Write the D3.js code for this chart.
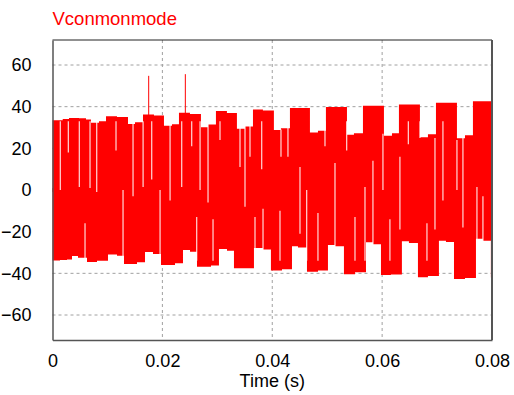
<!DOCTYPE html>
<html>
<head>
<meta charset="utf-8">
<script src="https://cdn.jsdelivr.net/npm/d3@7"></script>
<style>
    body { margin: 0; background: #fff; }
    #chart { width: 514px; height: 395px; }
    .axis text { font-family: "Liberation Sans", Arial, sans-serif; font-size: 18px; fill: #000; }
</style>
</head>
<body>
<div id="chart"></div>
<script>

// upper envelope of the switching waveform (step levels, V)
const topTimes = [0, 0.00186, 0.0030, 0.00482, 0.00610, 0.0070, 0.00846, 0.00974, 0.01174, 0.01374,
    0.01502, 0.01647, 0.01847, 0.02029, 0.02175, 0.02302, 0.02502, 0.02702, 0.02830, 0.02975,
    0.03175, 0.03357, 0.03503, 0.03649, 0.03830, 0.04030, 0.04158, 0.04322, 0.04686, 0.04832,
    0.04977, 0.05360, 0.05487, 0.05651, 0.06033, 0.06179, 0.06306, 0.06688, 0.06834, 0.06980,
    0.07362, 0.07508, 0.07653];
const topLevels = [33.5, 34.1, 34.6, 34.4, 33.8, 32.3, 33.0, 35.4, 35.0, 31.7,
    32.5, 36.3, 35.8, 30.9, 31.6, 37.1, 36.5, 30.1, 31.5, 37.9,
    37.0, 29.4, 30.5, 38.7, 38.2, 28.8, 29.6, 39.4, 27.6, 28.5,
    39.9, 26.5, 27.3, 40.5, 26.0, 27.2, 41.1, 25.3, 26.8, 41.9,
    24.8, 26.3, 42.6];

// lower envelope
const bottomTimes = [0, 0.00137, 0.00264, 0.00355, 0.00464, 0.00628, 0.0081, 0.0101, 0.01174, 0.01301,
    0.01538, 0.01684, 0.01829, 0.01975, 0.0223, 0.02375, 0.02503, 0.0263, 0.02885, 0.0303,
    0.03176, 0.03303, 0.03667, 0.03831, 0.03976, 0.04177, 0.04359, 0.04468, 0.04632, 0.04832,
    0.05014, 0.05142, 0.05305, 0.05506, 0.05706, 0.05833, 0.05979, 0.0616, 0.0636, 0.06488,
    0.06652, 0.06834, 0.07034, 0.07162, 0.07308, 0.07508, 0.07708, 0.07835, 0.0798];
const bottomLevels = [-33.8, -33.6, -33.4, -31.7, -32.5, -34.6, -34.0, -31.0, -31.5, -35.5,
    -34.7, -29.8, -30.7, -36.0, -35.2, -28.8, -29.6, -36.8, -36.2, -28.3,
    -29.2, -37.5, -27.8, -28.5, -38.6, -38.0, -27.0, -27.6, -39.2, -38.6,
    -26.4, -27.0, -40.4, -39.5, -25.1, -26.0, -40.8, -40.5, -24.6, -25.4,
    -41.9, -41.3, -24.3, -25.0, -42.7, -42.2, -23.4, -24.3, -42.0];

// white streaks inside the band (time, upper value, lower value)
const gapTimes = [0.00142, 0.00288, 0.00488, 0.00592, 0.00683, 0.00805, 0.01156, 0.01284, 0.01466, 0.01649,
    0.01806, 0.01958, 0.02140, 0.02352, 0.02534, 0.02625, 0.02686, 0.02831, 0.02922, 0.03049,
    0.03413, 0.03504, 0.03595, 0.03686, 0.03808, 0.03832, 0.04159, 0.04141, 0.04286, 0.04505,
    0.04627, 0.04832, 0.04960, 0.05142, 0.05355, 0.05506, 0.05688, 0.05833, 0.06015, 0.06142,
    0.06324, 0.06477, 0.06689, 0.06816, 0.06962, 0.07107, 0.07362, 0.07471, 0.07726, 0.07835];
const gapHigh = [33, 33, 33, -16, 33, 33, 33, 0, 33, 33,
    33, 0, 33, 33, 33, -13, 33, 33, -14, 33,
    33, 33, 33, -13, 33, -9, 29, -10, 33, 11,
    0, -11, 33, 13, 33, -13, 1.5, 14, 27, -14,
    16, 33, 33, -16, 25, 33, 24, 33, 1.5, -3];
const gapLow = [0, 18, 1.5, -34, 1, -1, 19, -34, -3, 1.5,
    5, -34, -5, 1.5, 21, -34, 0, -6, -34, 24,
    11, -8, 16, -34, 10, -34, 16, -34, 16, -21,
    -34, -34, 21, -34, 19, -34, -34, -34, 0, -34,
    -19, 22, 25, -34, -19, -5, 0, -18, -34, -34];

// two narrow spikes
const spikeTimes = [0.01751, 0.02418];
const spikePeaks = [54.8, 55.6];

const yTicks = [-60, -40, -20, 0, 20, 40, 60];
const xTicks = [0, 0.02, 0.04, 0.06, 0.08];
const xTickLabels = ["0", "0.02", "0.04", "0.06", "0.08"];


class waveformChart {

    constructor(_parentElement) {
        this.parentElement = _parentElement;
        this.initVis();
    }

    initVis() {
        let vis = this;

        vis.margin = { top: 40, right: 22, bottom: 55, left: 52.5 };
        vis.width = 514 - vis.margin.left - vis.margin.right;
        vis.height = 395 - vis.margin.top - vis.margin.bottom;

        vis.svg = d3.select("#" + vis.parentElement).append("svg")
            .attr("width", 514)
            .attr("height", 395)
            .append("g")
            .attr("transform", "translate(" + vis.margin.left + "," + vis.margin.top + ")");

        vis.x = d3.scaleLinear()
            .domain([0, 0.08])
            .range([0, vis.width]);

        vis.y = d3.scaleLinear()
            .domain([-72, 72])
            .range([vis.height, 0]);

        // grid
        vis.svg.selectAll(".hgrid")
            .data(yTicks)
            .enter().append("line")
            .attr("x1", 0).attr("x2", vis.width)
            .attr("y1", d => vis.y(d)).attr("y2", d => vis.y(d))
            .attr("stroke", "#a0a0a0")
            .attr("stroke-dasharray", "3,3");

        vis.svg.selectAll(".vgrid")
            .data(xTicks.slice(1, -1))
            .enter().append("line")
            .attr("x1", d => vis.x(d)).attr("x2", d => vis.x(d))
            .attr("y1", 0).attr("y2", vis.height)
            .attr("stroke", "#a0a0a0")
            .attr("stroke-dasharray", "3,3");

        // red band
        let upper = topTimes.map((t, i) => [t, topLevels[i]]);
        upper.push([0.08, topLevels[topLevels.length - 1]]);
        let lower = bottomTimes.map((t, i) => [t, bottomLevels[i]]);
        lower.push([0.08, bottomLevels[bottomLevels.length - 1]]);

        let upperArea = d3.area()
            .x(d => vis.x(d[0]))
            .y0(vis.y(-1))
            .y1(d => vis.y(d[1]))
            .curve(d3.curveStepAfter);
        let lowerArea = d3.area()
            .x(d => vis.x(d[0]))
            .y0(vis.y(1))
            .y1(d => vis.y(d[1]))
            .curve(d3.curveStepAfter);

        vis.svg.append("path").datum(upper).attr("d", upperArea).attr("fill", "#ff0000");
        vis.svg.append("path").datum(lower).attr("d", lowerArea).attr("fill", "#ff0000");

        vis.svg.selectAll(".gap")
            .data(gapTimes)
            .enter().append("line")
            .attr("x1", d => vis.x(d)).attr("x2", d => vis.x(d))
            .attr("y1", (d, i) => vis.y(gapHigh[i])).attr("y2", (d, i) => vis.y(gapLow[i]))
            .attr("stroke", "#fff")
            .attr("stroke-opacity", 0.85)
            .attr("stroke-width", 1.2);

        vis.svg.selectAll(".spike")
            .data(spikeTimes)
            .enter().append("line")
            .attr("x1", d => vis.x(d)).attr("x2", d => vis.x(d))
            .attr("y1", vis.y(30)).attr("y2", (d, i) => vis.y(spikePeaks[i]))
            .attr("stroke", "#ff0000")
            .attr("stroke-width", 1);

        // frame
        vis.svg.append("line").attr("x1", 0).attr("x2", vis.width).attr("y1", 0).attr("y2", 0)
            .attr("stroke", "#222");
        vis.svg.append("line").attr("x1", vis.width).attr("x2", vis.width).attr("y1", 0).attr("y2", vis.height)
            .attr("stroke", "#555").attr("stroke-width", 2);

        vis.xAxis = d3.axisBottom(vis.x)
            .tickValues(xTicks)
            .tickFormat((d, i) => xTickLabels[i])
            .tickSize(0)
            .tickPadding(14);

        vis.yAxis = d3.axisLeft(vis.y)
            .tickValues(yTicks)
            .tickSize(0)
            .tickPadding(21);

        vis.svg.append("g")
            .attr("class", "x-axis axis")
            .attr("transform", "translate(0," + vis.height + ")")
            .call(vis.xAxis);
        vis.svg.append("g")
            .attr("class", "y-axis axis")
            .call(vis.yAxis);

        vis.svg.selectAll(".axis path")
            .attr("stroke", "#555")
            .attr("stroke-width", 1.5);
        vis.svg.selectAll(".axis text").attr("font-family", null).attr("font-size", null);

        vis.svg.append("text")
            .attr("class", "axis-text")
            .attr("x", vis.width / 2)
            .attr("y", vis.height + 47)
            .style("text-anchor", "middle")
            .style("font-family", "'Liberation Sans', Arial, sans-serif")
            .style("font-size", "18px")
            .text("Time (s)");

        vis.svg.append("text")
            .attr("x", 0)
            .attr("y", -15)
            .style("font-family", "'Liberation Sans', Arial, sans-serif")
            .style("font-size", "18.5px")
            .style("fill", "#ff0000")
            .text("Vconmonmode");
    }
}

new waveformChart("chart");
</script>
</body>
</html>
